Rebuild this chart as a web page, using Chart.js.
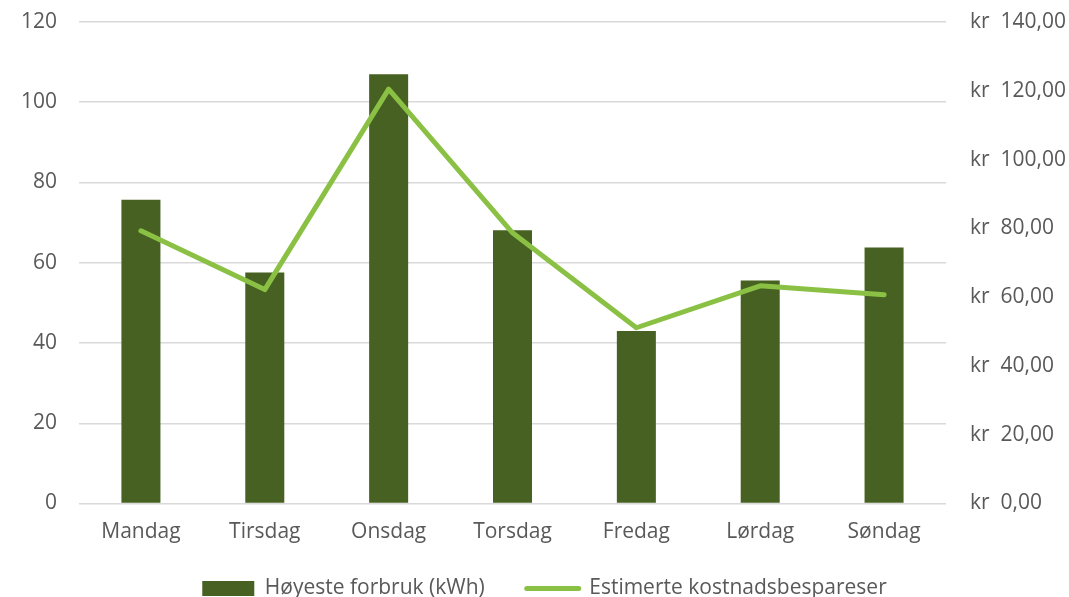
<!DOCTYPE html>
<html>
<head>
<meta charset="utf-8">
<script src="https://cdn.jsdelivr.net/npm/chart.js@4/dist/chart.umd.min.js"></script>
<style>
  html, body { margin: 0; padding: 0; background: #fff; overflow: hidden; }
  #wrap { width: 1069px; height: 609px; position: relative; }
</style>
</head>
<body>
<div id="wrap"><canvas id="myChart"></canvas></div>
<script>
"use strict";
// data
var dager = ['Mandag', 'Tirsdag', 'Onsdag', 'Torsdag', 'Fredag', 'Lørdag', 'Søndag'];
var forbruk = [75.7, 57.6, 107.0, 68.1, 43.0, 55.6, 63.8];
var besparelse = [79.3, 62.2, 120.5, 78.7, 51.1, 63.3, 60.7];
var navnForbruk = 'Høyeste forbruk (kWh)';
var navnBesparelse = 'Estimerte kostnadsbespareser';

var tekstFarge = '#595959';
var morkGronn = '#466121';
var lysGronn = '#8ac144';
var font = { family: '"Open Sans", sans-serif', size: 21 };

// the x axis box is kept short so the legend sits close, let its labels draw below it
var xLabelRoom = {
    id: 'xLabelRoom',
    afterLayout: function (c) { c.scales.x.bottom += 20; }
};

var ctx = document.getElementById('myChart').getContext('2d');
var chart = new Chart(ctx, {
    type: 'bar',
    data: {
        labels: dager,
        datasets: [{
            type: 'bar',
            label: navnForbruk,
            data: forbruk,
            backgroundColor: morkGronn,
            borderWidth: 0,
            barPercentage: 0.315,
            categoryPercentage: 1,
            yAxisID: 'y',
            order: 1
        }, {
            type: 'line',
            label: navnBesparelse,
            data: besparelse,
            borderColor: lysGronn,
            backgroundColor: lysGronn,
            borderWidth: 5,
            borderJoinStyle: 'round',
            borderCapStyle: 'round',
            pointRadius: 0,
            tension: 0,
            yAxisID: 'y1',
            order: 0
        }]
    },
    plugins: [xLabelRoom],
    options: {
        responsive: true,
        maintainAspectRatio: false,
        animation: false,
        layout: { padding: { top: 22, left: 20, right: 0, bottom: 0 } },
        plugins: {
            tooltip: { enabled: false },
            legend: {
                position: 'bottom',
                labels: {
                    color: tekstFarge,
                    font: font,
                    usePointStyle: true,
                    pointStyleWidth: 52,
                    boxHeight: 15,
                    padding: 42,
                    generateLabels: function (c) {
                        return [{
                            text: navnForbruk,
                            fillStyle: morkGronn,
                            strokeStyle: morkGronn,
                            lineWidth: 0,
                            pointStyle: 'rect',
                            fontColor: tekstFarge,
                            datasetIndex: 0
                        }, {
                            text: navnBesparelse,
                            fillStyle: lysGronn,
                            strokeStyle: lysGronn,
                            lineWidth: 5,
                            lineCap: 'round',
                            pointStyle: 'line',
                            fontColor: tekstFarge,
                            datasetIndex: 1
                        }];
                    }
                }
            }
        },
        scales: {
            x: {
                grid: { display: false, drawTicks: false },
                border: { display: false },
                ticks: { color: tekstFarge, font: font, padding: 16.4, maxRotation: 0 },
                afterFit: function (scale) { scale.height = 32.5; }
            },
            y: {
                position: 'left',
                min: 0,
                max: 120,
                ticks: { stepSize: 20, color: tekstFarge, font: font, padding: 0 },
                grid: { color: '#d9d9d9', lineWidth: 1.5, drawTicks: true, tickLength: 22, tickColor: 'rgba(0,0,0,0)' },
                border: { display: false },
                afterFit: function (scale) { scale.width = 59; }
            },
            y1: {
                position: 'right',
                min: 0,
                max: 140,
                ticks: {
                    stepSize: 20,
                    color: tekstFarge,
                    font: font,
                    padding: 0,
                    callback: function (v) { return 'kr  ' + v.toFixed(2).replace('.', ','); }
                },
                grid: { drawOnChartArea: false, drawTicks: true, tickLength: 24, tickColor: 'rgba(0,0,0,0)' },
                border: { display: false },
                afterFit: function (scale) { scale.width = 123; }
            }
        }
    }
});
</script>
</body>
</html>
